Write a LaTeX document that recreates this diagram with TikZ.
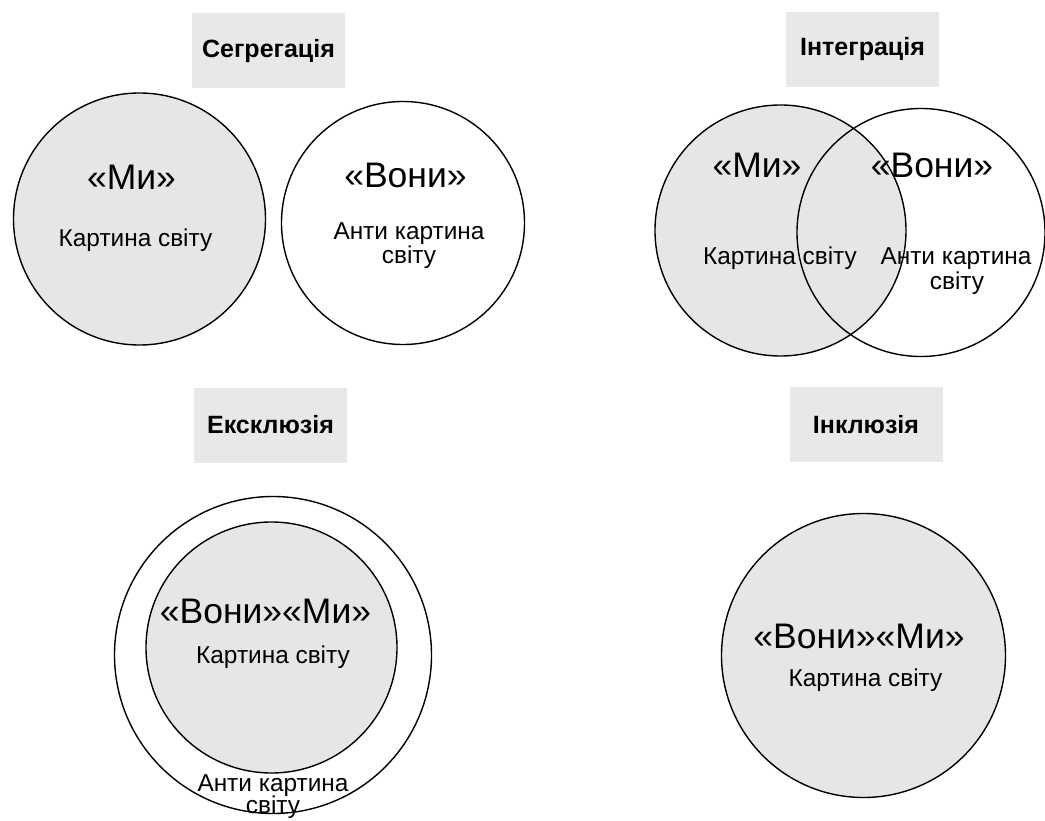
\documentclass[tikz,border=0pt]{standalone}
\usepackage{fontspec}
\setmainfont{Liberation Sans}
\definecolor{shade}{HTML}{E6E6E6}
\definecolor{titlegray}{HTML}{E8E8E8}
\tikzset{
  titlebox/.style={fill=titlegray, draw=none, minimum width=153pt, minimum height=75pt, inner sep=0pt, font=\fontsize{25}{29}\selectfont\bfseries},
  ring/.style={circle, draw=black, line width=1.4pt, inner sep=0pt},
  grayring/.style={ring, fill=shade},
  whitering/.style={ring, fill=white},
  openring/.style={ring},
  bigtxt/.style={anchor=base, inner sep=0pt, font=\fontsize{35.5}{40}\selectfont},
  smalltxt/.style={anchor=base, inner sep=0pt, font=\fontsize{24.4}{28}\selectfont},
}
\begin{document}
\begin{tikzpicture}[x=1pt,y=-1pt]
\useasboundingbox (0,0) rectangle (1045,821);
% titles
\node[titlebox] (tseg) at (268.5,51) {Сегрегація};
\node[titlebox] (tint) at (862.5,49.5) {Інтеграція};
\node[titlebox] (texc) at (270.5,425) {Ексклюзія};
\node[titlebox] (tinc) at (866,424.5) {Інклюзія};
% segregation
\node[grayring, minimum size=252pt] (segmi) at (139.5,219) {};
\node[whitering, minimum size=243pt] (segvoni) at (403,223) {};
\node[bigtxt] (segmit) at (131.5,190) {«Ми»};
\node[smalltxt] (segmik) at (135.5,247) {Картина світу};
\node[bigtxt] (segvonit) at (405.5,188) {«Вони»};
\node[smalltxt] (segvonik) at (409,240) {Анти картина};
\node[smalltxt] (segvonis) at (409,264) {світу};
% integration
\node[grayring, minimum size=251pt] (intmi) at (780.5,230.5) {};
\node[openring, minimum size=248pt] (intvoni) at (921,232.5) {};
\node[bigtxt] (intmit) at (757,178) {«Ми»};
\node[bigtxt] (intvonit) at (932,178) {«Вони»};
\node[smalltxt] (intmik) at (780,265) {Картина світу};
\node[smalltxt] (intvonik) at (956,265) {Анти картина};
\node[smalltxt] (intvonis) at (957,290) {світу};
% exclusion
\node[whitering, minimum size=317pt] (excout) at (273,655) {};
\node[grayring, minimum size=251pt] (excin) at (271.5,647.5) {};
\node[bigtxt] (excvm) at (265.5,623) {«Вони»«Ми»};
\node[smalltxt] (exck) at (273,663) {Картина світу};
\node[smalltxt] (excak) at (273,791) {Анти картина};
\node[smalltxt] (excas) at (273,813) {світу};
% inclusion
\node[grayring, minimum size=284pt] (inc) at (863.5,655.5) {};
\node[bigtxt] (incvm) at (859,648) {«Вони»«Ми»};
\node[smalltxt] (inck) at (865.5,686) {Картина світу};
\end{tikzpicture}
\end{document}
